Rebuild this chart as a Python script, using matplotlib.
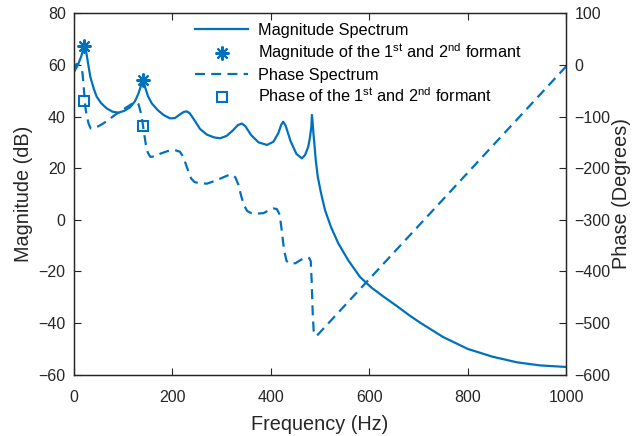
import matplotlib
matplotlib.use("Agg")
import matplotlib.pyplot as plt
import numpy as np

plt.rcParams['font.family'] = ['Liberation Sans', 'DejaVu Sans']
plt.rcParams['mathtext.fontset'] = 'custom'
plt.rcParams['mathtext.rm'] = 'Liberation Sans'

# magnitude spectrum (Hz, dB)
mag_freq = [0, 5, 9, 14, 18, 21, 23, 26, 33, 40, 46, 55, 66, 78, 90, 102, 114,
            124, 131, 137, 141, 145, 150, 158, 170, 182, 195, 205, 215, 223,
            229, 235, 245, 256, 270, 285, 297, 310, 322, 333, 341, 348, 360,
            375, 392, 405, 415, 421, 425, 430, 440, 452, 463, 469.5, 476,
            479.7, 482.3, 483.5, 485, 486.5, 488.4, 491.2, 495.3, 502, 510,
            522, 537, 557, 581, 604, 630, 656, 680, 703, 750, 800, 850, 900,
            947, 1000]
mag_db = [57.4, 59.0, 60.6, 63.0, 65.5, 67.3, 67.0, 63.5, 55.4, 50.8, 47.7,
          45.2, 43.2, 41.9, 41.5, 42.2, 43.6, 46.0, 49.0, 52.5, 54.0, 51.0,
          48.0, 45.1, 42.5, 40.6, 39.3, 39.4, 40.8, 41.8, 42.0, 41.3, 38.5,
          35.2, 33.0, 31.9, 31.6, 32.5, 34.5, 36.7, 37.3, 36.3, 32.8, 30.0,
          29.0, 30.2, 33.5, 36.8, 38.0, 36.5, 30.5, 25.5, 23.8, 25.1, 28.3,
          32.2, 36.1, 40.6, 37.5, 33.5, 29.6, 23.2, 16.7, 10.3, 3.8, -2.7,
          -9.1, -15.6, -22.1, -26.2, -29.9, -33.4, -36.8, -39.8, -45.4,
          -50.0, -53.0, -55.2, -56.4, -57.0]

# phase spectrum (Hz, degrees)
ph_freq = [0, 3, 6, 10, 14, 17, 19, 21, 23, 26, 30, 34, 40, 49, 60, 73, 86,
           100, 110, 120, 127, 131, 135, 139, 142, 146, 150, 155, 165, 175,
           190, 205, 215, 222, 230, 238, 245, 255, 270, 285, 300, 315, 322,
           328, 334, 340, 346, 352, 360, 372, 385, 395, 405, 412, 418, 422,
           427, 432, 440, 450, 462, 472, 478, 481, 483, 485, 487, 490, 493,
           1000]
ph_deg = [-10, 0, 2, -1, -6, -15, -35, -60, -82, -100, -115, -123, -122,
          -119, -113, -104, -95, -86, -80, -74, -72, -76, -90, -110, -130,
          -155, -170, -178, -177, -172, -167, -165, -168, -178, -200, -220,
          -227, -229, -230, -225, -219, -213, -213, -218, -232, -255, -273,
          -283, -287, -288, -287, -282, -278, -279, -290, -320, -360, -380,
          -385, -384, -377, -373, -374, -380, -420, -480, -515, -523, -525,
          -3]

# first and second formants
formant_freq = [21, 141]
formant_mag = [67.3, 54.0]
formant_phase = [-70, -118]

blue = '#0072BD'
dark = '#262626'

fig = plt.figure(figsize=(6.44, 4.36), dpi=100)
ax = fig.add_axes([0.115, 0.1406, 0.764, 0.8289])
ax2 = ax.twinx()

l1, = ax.plot(mag_freq, mag_db, color=blue, lw=1.6, label='Magnitude Spectrum')
l2, = ax.plot(formant_freq, formant_mag, ls='none', marker=(8, 2, 0), ms=10,
              mew=1.5, color=blue,
              label=r'Magnitude of the 1$^{\mathregular{st}}$ and 2$^{\mathregular{nd}}$ formant')
l3, = ax2.plot(ph_freq, ph_deg, color=blue, lw=1.6, ls=(0, (4.5, 2.8)),
               label='Phase Spectrum')
l4, = ax2.plot(formant_freq, formant_phase, ls='none', marker='s', ms=7,
               mfc='none', mew=1.5, color=blue,
               label=r'Phase of the 1$^{\mathregular{st}}$ and 2$^{\mathregular{nd}}$ formant')

ax.set_xlim(0, 1000)
ax.set_ylim(-60, 80)
ax2.set_ylim(-600, 100)
ax.set_xticks(np.arange(0, 1001, 200))
ax.set_yticks(np.arange(-60, 81, 20))
ax2.set_yticks(np.arange(-600, 101, 100))

ax.set_xlabel('Frequency (Hz)', fontsize=14.3, color=dark, labelpad=7)
ax.set_ylabel('Magnitude (dB)', fontsize=14.3, color=dark, labelpad=4)
ax2.set_ylabel('Phase (Degrees)', fontsize=14.3, color=dark, labelpad=1)

for a in (ax, ax2):
    for s in a.spines.values():
        s.set_color(dark)
        s.set_linewidth(0.9)
ax.tick_params(axis='x', direction='in', top=True, length=5, labelsize=11.5,
               colors=dark, pad=11)
ax.tick_params(axis='y', direction='in', length=5, labelsize=11.5,
               colors=dark, pad=6)
ax2.tick_params(axis='y', direction='in', length=5, labelsize=11.5,
                colors=dark, pad=6)

ax2.legend(handles=[l1, l2, l3, l4], loc='upper left',
           bbox_to_anchor=(0.246, 0.974), frameon=False, fontsize=11.7,
           handlelength=3.26, handletextpad=0.6, borderpad=0,
           borderaxespad=0, labelspacing=0.25, numpoints=1)

fig.savefig('out.png', dpi=100)
